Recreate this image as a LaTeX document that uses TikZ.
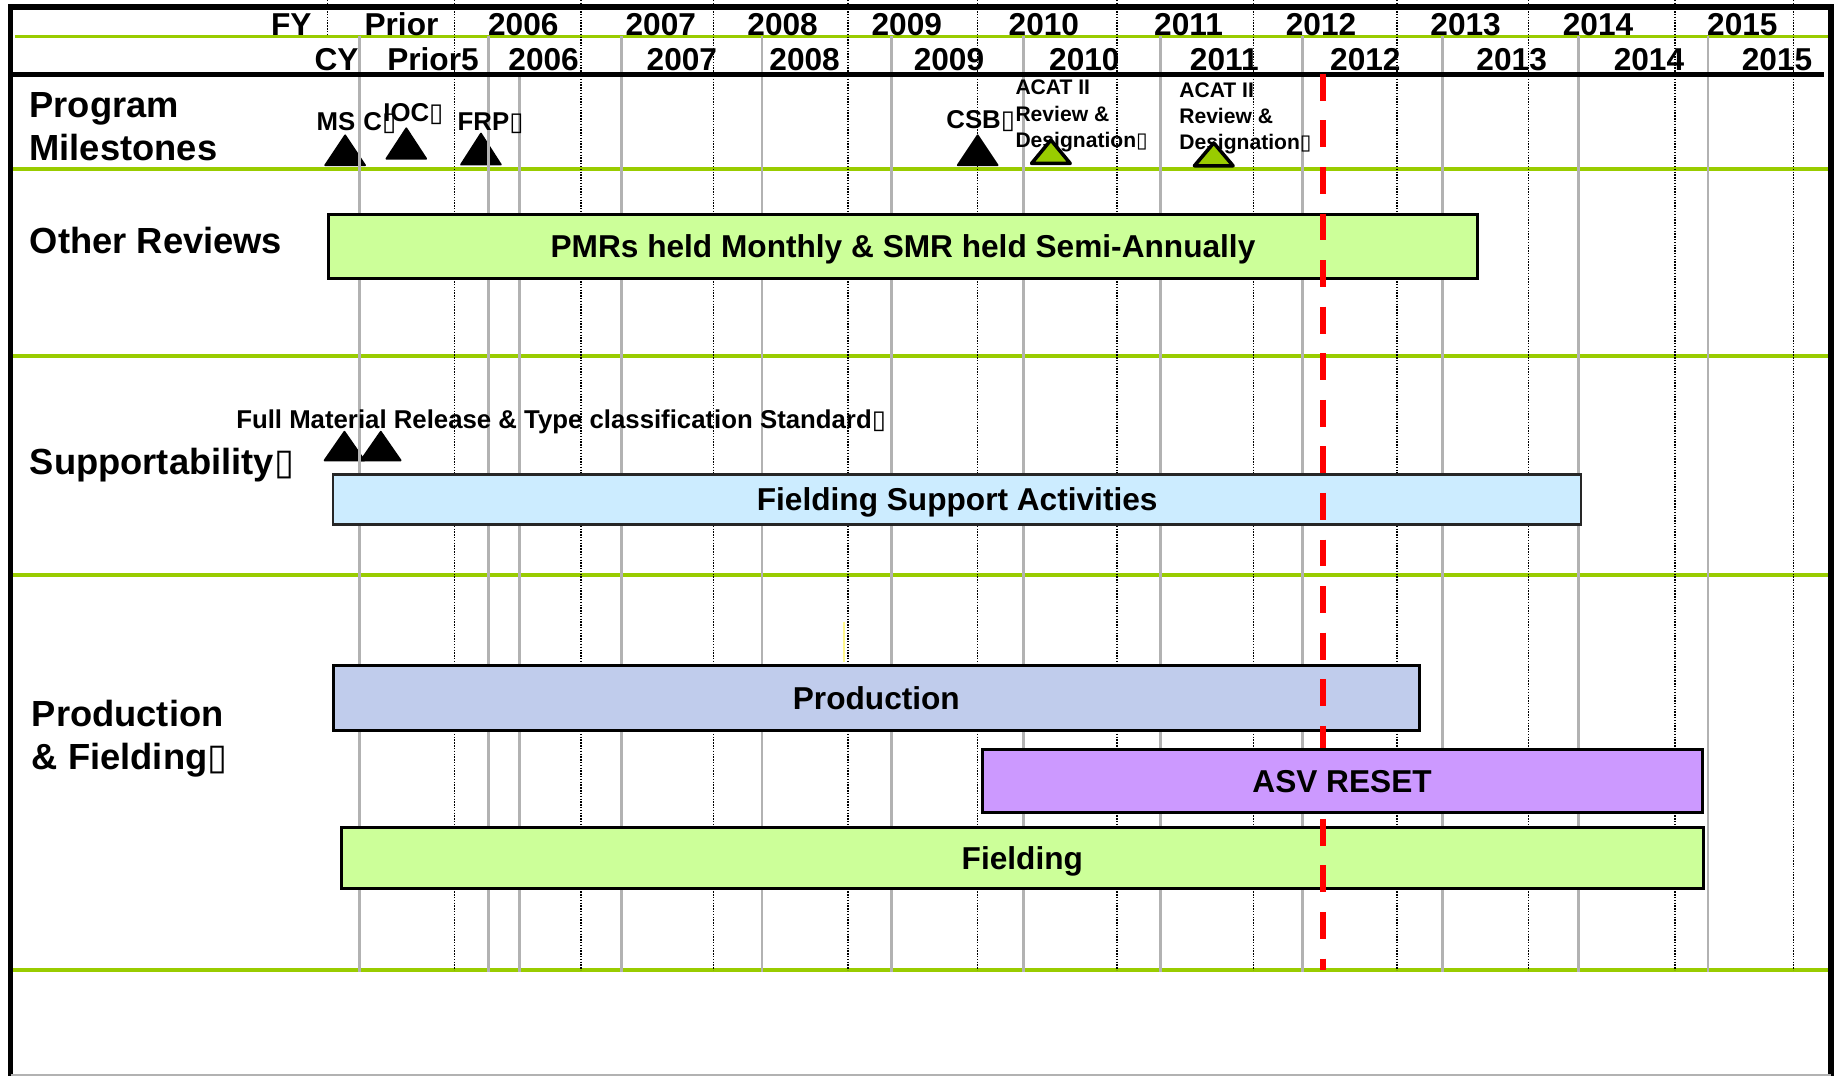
\documentclass[tikz,border=0pt]{standalone}
\usepackage{fontspec}
\setmainfont{Liberation Sans}
\newfontfamily\boxfont{DejaVu Sans}
\newcommand{\tofu}{{\boxfont ▯}}
\definecolor{rulegreen}{HTML}{99CC00}
\definecolor{barlime}{HTML}{CCFF99}
\definecolor{barsky}{HTML}{CCECFF}
\definecolor{barblue}{RGB}{192,204,236}
\definecolor{barlilac}{HTML}{CC99FF}
\definecolor{gridgray}{HTML}{B2B2B2}
\begin{document}
\begin{tikzpicture}[x=1pt, y=-1pt,
  every node/.style={inner sep=0pt},
  hdr/.style={font=\fontsize{27}{32}\selectfont\bfseries, anchor=base},
  rowlbl/.style={font=\fontsize{31}{37}\selectfont\bfseries, anchor=base west, align=left},
  mslbl/.style={font=\fontsize{22}{26}\selectfont\bfseries, anchor=base west},
  acatlbl/.style={font=\fontsize{18}{22.5}\selectfont\bfseries, anchor=base west, align=left},
  gbar/.style={draw=black, line width=2.5pt, anchor=north west, font=\fontsize{27}{32}\selectfont\bfseries, text height=19pt, text depth=0pt},
  grnrule/.style={rulegreen, line width=2.8pt},
  cyline/.style={gridgray, line width=2.3pt},
  fyline/.style={black, line width=1.3pt, dash pattern=on 1.2pt off 1.2pt},
]
  \useasboundingbox (0,0) rectangle (1568,918);

  % Section rules
  \draw[grnrule] (13,31) -- (1563,31); % FY / CY split
  \foreach \y in {144.3,303.9,490.8,828} {
    \draw[grnrule] (7,\y) -- (1563,\y); % row separators
  }

  % Milestone triangles (black)
  \foreach \cx/\by/\ty in {294.6/141/115.5, 346.8/135.5/109.5, 410.5/140.5/114, 834.5/141/115.5, 294/393/368.5, 325/393/368.5} {
    \filldraw[black, line width=1.5pt, line join=round] (\cx-17,\by) -- (\cx+17,\by) -- (\cx,\ty) -- cycle;
  }

  % Calendar year lines (grey) and fiscal year lines (dotted)
  \foreach \x in {306.6,416.8,530.7,650.5,760.8,873.9,990.7,1112,1231.5,1347.5,1457.9} {
    \draw[cyline] (\x,31) -- (\x,830);
  }
  \draw[cyline] (443.2,63) -- (443.2,830);
  \foreach \x in {388.1,496.1,609,724,834.4,953.3,1070,1192.5,1304.5,1429.5,1531} {
    \draw[fyline] (\x,0) -- (\x,828);
  }
  \draw[fyline] (279.5,0) -- (279.5,31);
  \draw[yellow!45, line width=1pt] (720.4,530.6) -- (720.4,564.8); % stray mark

  % Frame
  \draw[line width=5pt] (9,918) -- (9,6) -- (1563,6) -- (1563,918);
  \draw[gray!60, line width=1pt] (9,917.5) -- (1563,917.5);
  \draw[line width=4.5pt] (9,63.3) -- (1556.5,63.3); % header bottom

  % Header years
  \foreach \x/\t [count=\i] in {248.7/FY, 342.7/Prior, 446.7/2006, 564/2007, 668/2008, 774/2009, 891/2010, 1014.5/2011, 1127.6/2012, 1251/2013, 1364/2014, 1487.2/2015} {
    \node[hdr] (fy\i) at (\x,30) {\t};
  }
  \foreach \x/\t [count=\i] in {287.2/CY, 369.6/Prior5, 464/2006, 582/2007, 686.8/2008, 810/2009, 925.6/2010, 1045/2011, 1165.4/2012, 1290.3/2013, 1407.5/2014, 1516.8/2015} {
    \node[hdr] (cy\i) at (\x,60) {\t};
  }

  % Row labels (base = last line)
  \node[rowlbl] (lblmile) at (25,137) {Program\\Milestones};
  \node[rowlbl] (lblrev) at (25.3,216.2) {Other Reviews};
  \node[rowlbl] (lblsup) at (25.3,405.4) {Supportability\tofu};
  \node[rowlbl] (lblprod) at (27,657) {Production\\\& Fielding\tofu};

  % Bars
  \node[gbar, fill=barlime, minimum width=981pt, minimum height=55.2pt] (pmr) at (279,181.5) {PMRs held Monthly \& SMR held Semi-Annually};
  \node[gbar, fill=barsky, draw=black!85, line width=2pt, minimum width=1065pt, minimum height=42.7pt] (fsa) at (283.5,404) {Fielding Support Activities};
  \node[gbar, fill=barblue, minimum width=926.5pt, minimum height=55.5pt] (prod) at (283.5,567) {Production};
  \node[gbar, fill=barlime, minimum width=1162.7pt, minimum height=52.3pt] (fld) at (290,705) {Fielding};

  % Today line
  \draw[red, line width=5pt, dash pattern=on 23pt off 16.75pt] (1129,63) -- (1129,828);

  \node[gbar, fill=barlilac, minimum width=614.6pt, minimum height=53.3pt] (asv) at (837,638.7) {ASV RESET};

  % Milestone labels
  \node[mslbl] (ms) at (270,111) {MS};
  \node[mslbl] (c) at (310,111) {C\tofu};
  \node[mslbl] (ioc) at (327,103.9) {IOC\tofu};
  \node[mslbl] (frp) at (390.5,111) {FRP\tofu};
  \node[mslbl] (csb) at (807.6,109.3) {CSB\tofu};
  \node[acatlbl] (acat1) at (866.6,126) {ACAT II\\Review \&\\Designation\tofu};
  \node[acatlbl] (acat2) at (1006.4,128) {ACAT II\\Review \&\\Designation\tofu};
  \node[mslbl] (fmr) at (201.5,366) {Full Material Release \& Type classification Standard\tofu};

  % ACAT II review triangles (green), over their labels
  \foreach \cx/\by/\ty in {897/139.5/119.5, 1036/141.5/122} {
    \filldraw[fill=rulegreen, draw=black, line width=3pt, line join=round] (\cx-16.5,\by) -- (\cx+16.5,\by) -- (\cx,\ty) -- cycle;
  }
\end{tikzpicture}
\end{document}
